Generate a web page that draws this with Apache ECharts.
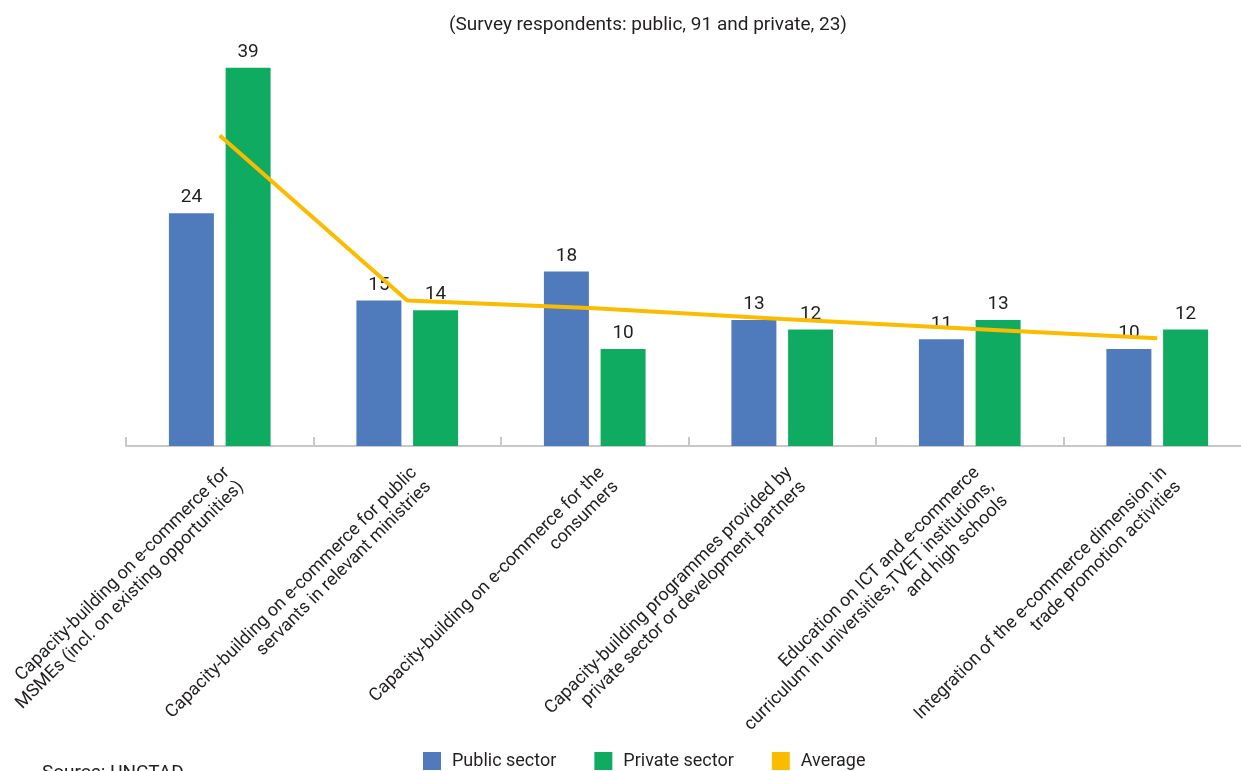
<!DOCTYPE html>
<html>
<head>
<meta charset="utf-8">
<script src="https://cdn.jsdelivr.net/npm/echarts@6/dist/echarts.min.js"></script>
<style>
html,body{margin:0;padding:0;background:#fff;}
#chart{width:1241px;height:771px;}
</style>
</head>
<body>
<div id="chart"></div>
<script>
var categories = [
  "Capacity-building on e-commerce for\nMSMEs (incl. on existing opportunities)",
  "Capacity-building on e-commerce for public\nservants in relevant ministries",
  "Capacity-building on e-commerce for the\nconsumers",
  "Capacity-building programmes provided by\nprivate sector or development partners",
  "Education on ICT and e-commerce\ncurriculum in universities,TVET institutions,\nand high schools",
  "Integration of the e-commerce dimension in\ntrade promotion activities"
];
var publicSector = [24, 15, 18, 13, 11, 10];
var privateSector = [39, 14, 10, 12, 13, 12];
var average = [32, 15, 14.2, 13.1, 12.1, 11.1];
var titleText = "(Survey respondents: public, 91 and private, 23)";
var sourceText = "Source: UNCTAD";

var FONT = "'Roboto', sans-serif";
var chart = echarts.init(document.getElementById('chart'), null, {renderer: 'canvas'});
chart.setOption({
  backgroundColor: '#ffffff',
  animation: false,
  textStyle: {fontFamily: FONT},
  title: {
    text: titleText,
    left: 444,
    top: 11,
    textStyle: {fontFamily: FONT, fontSize: 19, fontWeight: 'normal', color: '#231f20'}
  },
  legend: {
    bottom: -4,
    left: 418,
    itemWidth: 18,
    itemHeight: 18,
    itemGap: 38,
    icon: 'rect',
    textStyle: {fontFamily: FONT, fontSize: 18, color: '#231f20', padding: [0, 0, 0, 6]},
    data: ['Public sector', 'Private sector', 'Average']
  },
  graphic: [{
    type: 'text',
    left: 42,
    top: 764,
    style: {text: sourceText, font: "19px Roboto, sans-serif", fill: '#231f20'}
  }],
  grid: {left: 126, top: 58, width: 1125, height: 388, containLabel: false, outerBoundsMode: 'none'},
  xAxis: {
    type: 'category',
    data: categories,
    axisLine: {show: true, lineStyle: {color: '#c8c8c8', width: 2}},
    axisTick: {show: true, inside: true, length: 9, lineStyle: {color: '#c8c8c8', width: 2}},
    axisLabel: {
      interval: 0,
      rotate: 45,
      margin: 17,
      verticalAlign: 'top',
      fontFamily: FONT,
      fontSize: 18,
      lineHeight: 20,
      color: '#231f20'
    }
  },
  yAxis: {
    type: 'value',
    min: 0,
    max: 40,
    show: false,
    splitLine: {show: false}
  },
  series: [
    {
      name: 'Public sector',
      type: 'bar',
      data: publicSector,
      barWidth: 45,
      barGap: '26%',
      itemStyle: {color: '#4f7bbc'},
      label: {show: true, position: 'top', distance: 6, fontFamily: FONT, fontSize: 19, color: '#231f20'}
    },
    {
      name: 'Private sector',
      type: 'bar',
      data: privateSector,
      barWidth: 45,
      barGap: '26%',
      itemStyle: {color: '#0fab61'},
      label: {show: true, position: 'top', distance: 6, fontFamily: FONT, fontSize: 19, color: '#231f20'}
    },
    {
      name: 'Average',
      type: 'line',
      data: average,
      symbol: 'none',
      z: 5,
      lineStyle: {color: '#fbbc00', width: 4},
      itemStyle: {color: '#fbbc00'}
    }
  ]
});
</script>
</body>
</html>
